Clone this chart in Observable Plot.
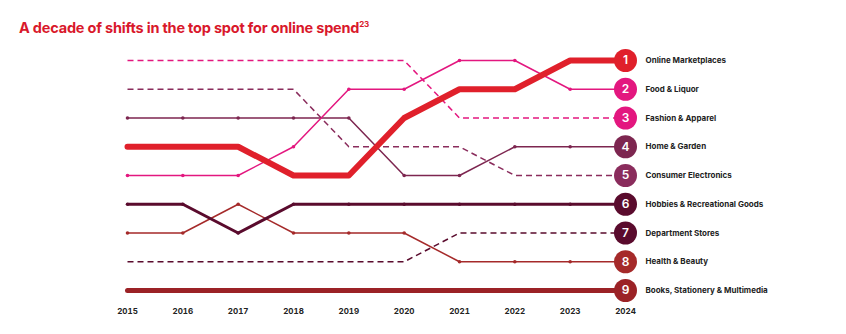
<!DOCTYPE html>
<html>
<head>
<meta charset="utf-8">
<script src="https://cdn.jsdelivr.net/npm/d3@7"></script>
<script src="https://cdn.jsdelivr.net/npm/@observablehq/plot@0.6"></script>
<style>
  body { margin: 0; background: #fff; font-family: Inter, "Open Sans", sans-serif; }
  #title { height: 45px; box-sizing: border-box; padding: 19px 0 0 19px; color: #d9182b; font-weight: 700; font-size: 14.5px; letter-spacing: -0.2px; }
  #title sup { font-size: 8px; }
</style>
</head>
<body>
<div id="title">A decade of shifts in the top spot for online spend<sup>23</sup></div>
<div id="chart"></div>
<script>
const years = [2015, 2016, 2017, 2018, 2019, 2020, 2021, 2022, 2023, 2024];
const categories = ["Online Marketplaces", "Food & Liquor", "Fashion & Apparel", "Home & Garden", "Consumer Electronics", "Hobbies & Recreational Goods", "Department Stores", "Health & Beauty", "Books, Stationery & Multimedia"];
const rankOnlineMarketplaces = [4, 4, 4, 5, 5, 3, 2, 2, 1, 1];
const rankFoodLiquor = [5, 5, 5, 4, 2, 2, 1, 1, 2, 2];
const rankFashionApparel = [1, 1, 1, 1, 1, 1, 3, 3, 3, 3];
const rankHomeGarden = [3, 3, 3, 3, 3, 5, 5, 4, 4, 4];
const rankConsumerElectronics = [2, 2, 2, 2, 4, 4, 4, 5, 5, 5];
const rankHobbies = [6, 6, 7, 6, 6, 6, 6, 6, 6, 6];
const rankDepartmentStores = [8, 8, 8, 8, 8, 8, 7, 7, 7, 7];
const rankHealthBeauty = [7, 7, 6, 7, 7, 7, 8, 8, 8, 8];
const rankBooks = [9, 9, 9, 9, 9, 9, 9, 9, 9, 9];
const finalRanks = [1, 2, 3, 4, 5, 6, 7, 8, 9];

const ranks = [rankOnlineMarketplaces, rankFoodLiquor, rankFashionApparel, rankHomeGarden, rankConsumerElectronics, rankHobbies, rankDepartmentStores, rankHealthBeauty, rankBooks];
const colors = ["#e0202b", "#e3177f", "#e3177f", "#7d2650", "#8a2c5c", "#5a0b2d", "#5a0b2d", "#a52a2a", "#9b2226"];
const widths = [6, 1.5, 1.5, 1.5, 1.5, 3, 1.5, 1.5, 5];
const dashes = [null, null, "6,4", null, "6,4", null, "6,4", null, null];

const series = categories.map((c, i) => ({c, i, pts: years.map((y, j) => ({year: y, rank: ranks[i][j], c}))}));
const ends = categories.map((c, i) => ({c, i, year: 2024, rank: finalRanks[i], label: String(finalRanks[i])}));

const marks = [];
const order = [2, 4, 6, 3, 1, 7, 5, 8, 0];
for (const i of order) {
  const s = series[i];
  marks.push(Plot.line(s.pts, {x: "year", y: "rank", stroke: colors[i], strokeWidth: widths[i], strokeDasharray: dashes[i], strokeLinecap: widths[i] > 3 ? "round" : "butt", strokeLinejoin: "round"}));
  if (!dashes[i] && widths[i] <= 3) marks.push(Plot.dot(s.pts, {x: "year", y: "rank", r: 1.8, fill: colors[i]}));
}
marks.push(Plot.dot(ends, {x: "year", y: "rank", r: 11.5, fill: (d) => colors[d.i]}));
marks.push(Plot.text(ends, {x: "year", y: "rank", text: "label", fill: "#fff", fontSize: 12, fontWeight: 600}));
marks.push(Plot.text(ends, {x: "year", y: "rank", text: "c", dx: 20, textAnchor: "start", fill: "#222", fontSize: 8, fontWeight: 700}));
marks.push(Plot.axisX({anchor: "bottom", tickSize: 0, tickPadding: 18, tickFormat: "d", ticks: years, fontSize: 8, fontWeight: 700, fill: "#222", label: null}));

const chart = Plot.plot({
  width: 846,
  height: 289,
  marginLeft: 127,
  marginRight: 221,
  marginTop: 15,
  marginBottom: 44,
  style: {fontFamily: "Inter, 'Open Sans', sans-serif", background: "#fff", overflow: "visible"},
  x: {domain: [2015, 2024], range: [127, 625], axis: null},
  y: {domain: [1, 9], range: [15, 245], axis: null},
  marks
});
document.getElementById("chart").appendChild(chart);
</script>
</body>
</html>
